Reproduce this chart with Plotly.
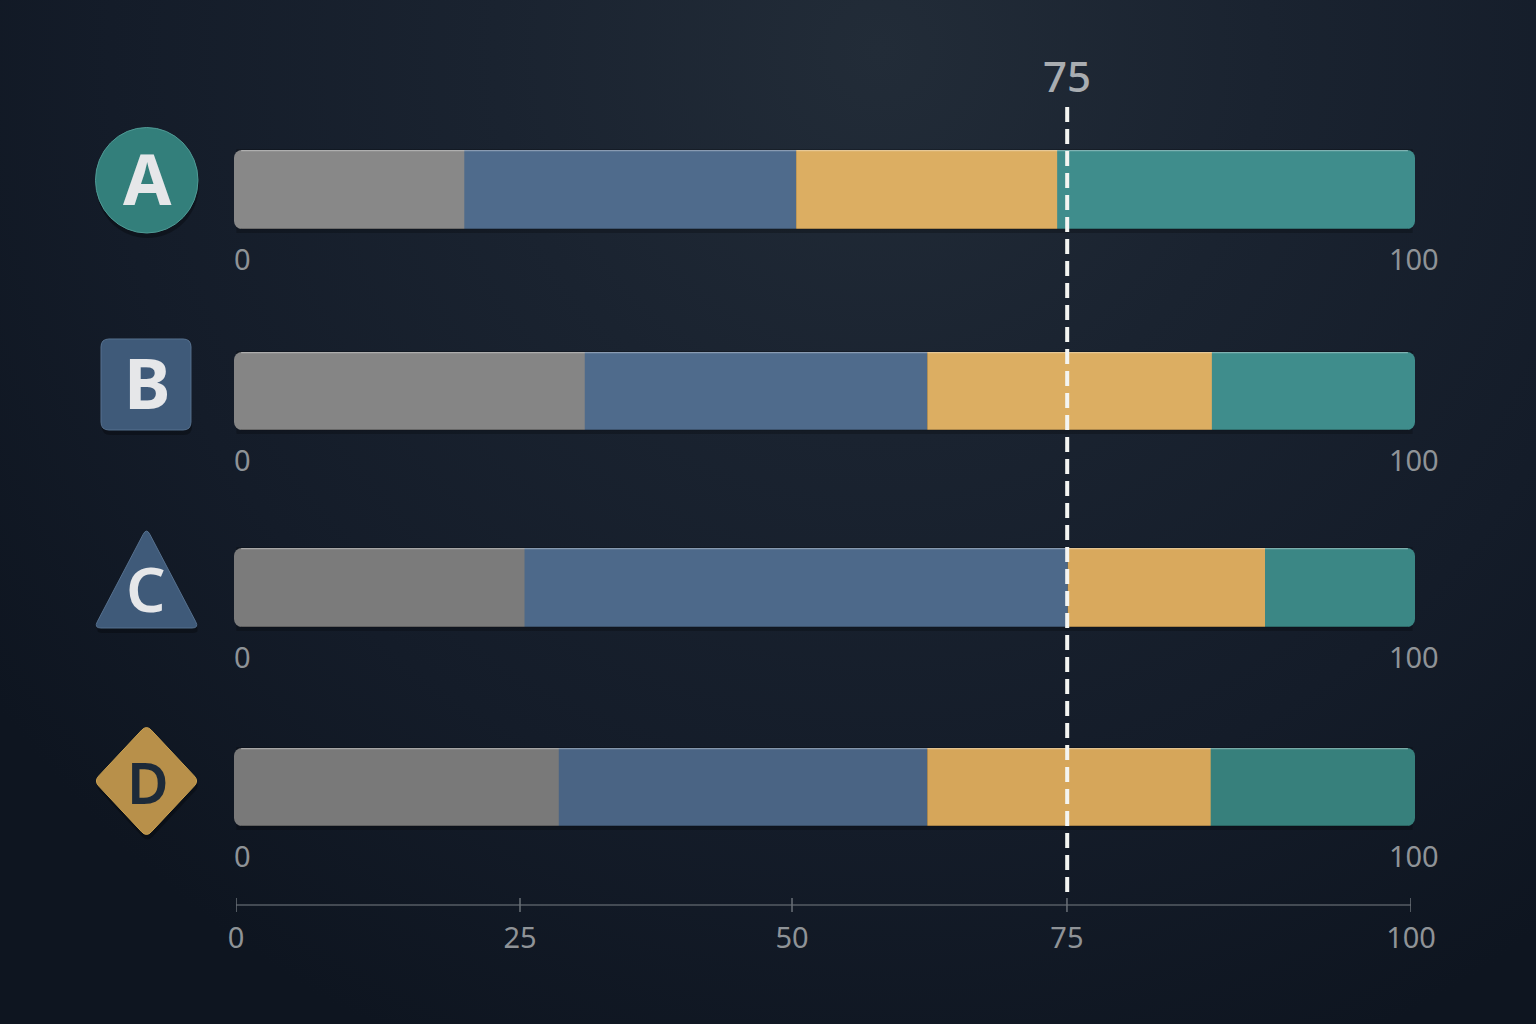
import base64
import math
import plotly.graph_objects as go

W, H = 1536, 1024

# Data (share of each bar)
ROWS = ["A", "B", "C", "D"]
SEG_GRAY = [19.5, 29.7, 24.6, 27.5]
SEG_BLUE = [28.1, 29.0, 46.0, 31.2]
SEG_GOLD = [22.1, 24.1, 16.7, 24.0]
SEG_TEAL = [30.3, 17.2, 12.7, 17.3]

COL_GRAY = ["#888888", "#858585", "#7b7b7b", "#797979"]
COL_BLUE = ["#4f6b8c", "#4f6b8c", "#4d698a", "#4a6484"]
COL_GOLD = ["#dcae62", "#dcae62", "#d9a95d", "#d6a65a"]
COL_TEAL = ["#3f8d8c", "#3f8d8c", "#3b8785", "#37807c"]

ROW_TOP = [150, 352, 548, 748]
ROW_BOTTOM = [229, 430, 627, 826]
BAR_LEFT, BAR_RIGHT = 234, 1415

ROW_TICK_POS = [0.7, 99.9]
ROW_TICK_TEXT = ["0", "100"]

AXIS_TICK_POS = [0, 24.17, 47.32, 70.72, 100]
AXIS_TICK_TEXT = ["0", "25", "50", "75", "100"]
REF_POS = 70.55
REF_LABEL = "75"

FONT = "Noto Sans"
TICK_COLOR = "#8f9397"
UNDERLAP = 2  # end segments run beneath their neighbour so only outer corners stay rounded


def px(x):
    return x / W


def py(y):
    return 1 - y / H


fig = go.Figure()
shapes = []

for i, row in enumerate(ROWS):
    n = "" if i == 0 else str(i + 1)
    xa, ya = "x" + n, "y" + n
    g, b, o, t = SEG_GRAY[i], SEG_BLUE[i], SEG_GOLD[i], SEG_TEAL[i]
    common = dict(y=[row], orientation="h", width=1, xaxis=xa, yaxis=ya,
                  showlegend=False, hoverinfo="skip")
    fig.add_trace(go.Bar(x=[g + UNDERLAP], base=[0],
                         marker=dict(color=COL_GRAY[i], cornerradius=8, line_width=0), **common))
    fig.add_trace(go.Bar(x=[t + UNDERLAP], base=[g + b + o - UNDERLAP],
                         marker=dict(color=COL_TEAL[i], cornerradius=8, line_width=0), **common))
    fig.add_trace(go.Bar(x=[b], base=[g], marker=dict(color=COL_BLUE[i], line_width=0), **common))
    fig.add_trace(go.Bar(x=[o], base=[g + b], marker=dict(color=COL_GOLD[i], line_width=0), **common))
    fig.update_layout(**{
        "xaxis" + n: dict(domain=[px(BAR_LEFT), px(BAR_RIGHT)], range=[0, 100], anchor=ya,
                          tickmode="array", tickvals=ROW_TICK_POS, ticktext=ROW_TICK_TEXT,
                          ticks="outside", ticklen=5, tickcolor="rgba(0,0,0,0)",
                          tickfont=dict(family=FONT, size=29, color=TICK_COLOR),
                          showgrid=False, zeroline=False, showline=False, automargin=False),
        "yaxis" + n: dict(domain=[py(ROW_BOTTOM[i]), py(ROW_TOP[i])], anchor=xa, type="category",
                          range=[-0.5, 0.5], visible=False),
    })
    # soft shadow under the bar, light top edge, dark bottom edge
    shapes.append(dict(type="rect", xref="x" + n, yref="paper", x0=0.2, x1=99.8,
                       y0=py(ROW_BOTTOM[i] + 4), y1=py(ROW_TOP[i] - 1),
                       fillcolor="rgba(0,0,0,0.22)", line_width=0, layer="below"))
    shapes.append(dict(type="line", xref="x" + n, yref=ya + " domain", x0=0.6, x1=99.4, y0=0.992, y1=0.992,
                       line=dict(color="rgba(255,255,255,0.33)", width=1.2), layer="above"))
    shapes.append(dict(type="line", xref="x" + n, yref=ya + " domain", x0=0.6, x1=99.4, y0=0.006, y1=0.006,
                       line=dict(color="rgba(0,0,0,0.22)", width=1.2), layer="above"))

# bottom scale
fig.add_trace(go.Scatter(x=AXIS_TICK_POS, y=[0] * len(AXIS_TICK_POS), xaxis="x5", yaxis="y5",
                         mode="lines+markers", showlegend=False, hoverinfo="skip",
                         line=dict(color="#565c64", width=1.5),
                         marker=dict(symbol="line-ns", size=16, line=dict(color="#6a7077", width=1.5))))
fig.update_layout(
    xaxis5=dict(domain=[px(236), px(1411)], range=[0, 100], anchor="y5",
                tickmode="array", tickvals=AXIS_TICK_POS, ticktext=AXIS_TICK_TEXT,
                ticks="outside", ticklen=0, tickcolor="rgba(0,0,0,0)",
                tickfont=dict(family=FONT, size=29, color=TICK_COLOR),
                showgrid=False, zeroline=False, showline=False, automargin=False),
    yaxis5=dict(domain=[py(912), py(898)], range=[-1, 1], anchor="x5", visible=False),
)

# reference line
shapes.append(dict(type="line", xref="x", yref="paper", x0=REF_POS, x1=REF_POS, y0=py(107), y1=py(893),
                   line=dict(color="#f4f5f2", width=4, dash="15px,7px"), layer="above"))


def rounded(points, r):
    """closed path through pixel points with rounded corners"""
    parts = []
    n = len(points)
    for k in range(n):
        p0, p1, p2 = points[k - 1], points[k], points[(k + 1) % n]
        d1 = math.dist(p0, p1)
        d2 = math.dist(p1, p2)
        a = (p1[0] + (p0[0] - p1[0]) * r / d1, p1[1] + (p0[1] - p1[1]) * r / d1)
        c = (p1[0] + (p2[0] - p1[0]) * r / d2, p1[1] + (p2[1] - p1[1]) * r / d2)
        parts.append(f"{'M' if k == 0 else 'L'} {px(a[0]):.5f} {py(a[1]):.5f} "
                     f"Q {px(p1[0]):.5f} {py(p1[1]):.5f} {px(c[0]):.5f} {py(c[1]):.5f}")
    return " ".join(parts) + " Z"


def badge(points, r, color, edge):
    shadow = [(x + 1, y + 5) for x, y in points]
    shapes.append(dict(type="path", xref="paper", yref="paper", path=rounded(shadow, r),
                       fillcolor="rgba(0,0,0,0.28)", line_width=0, layer="below"))
    shapes.append(dict(type="path", xref="paper", yref="paper", path=rounded(points, r),
                       fillcolor=color, line=dict(color=edge, width=1), layer="below"))


# A circle
shapes.append(dict(type="circle", xref="paper", yref="paper", x0=px(96), x1=px(199), y0=py(238), y1=py(132),
                   fillcolor="rgba(0,0,0,0.28)", line_width=0, layer="below"))
shapes.append(dict(type="circle", xref="paper", yref="paper", x0=px(95.5), x1=px(198), y0=py(233), y1=py(127.5),
                   fillcolor="#337f7b", line=dict(color="#4f9a95", width=1), layer="below"))
badge([(101, 339), (191, 339), (191, 430), (101, 430)], 8, "#3f5a79", "#56718f")
badge([(146.5, 528), (199, 628), (94, 628)], 7, "#3f5a79", "#56718f")
badge([(146.5, 725), (199, 781), (146.5, 837), (94, 781)], 7, "#b8904a", "#c9a050")

annotations = [
    dict(text="A", x=px(147), y=py(178), font=dict(size=70, color="#e6e7e9", family=FONT, weight=700)),
    dict(text="B", x=px(147), y=py(381.5), font=dict(size=70, color="#e6e7e9", family=FONT, weight=700)),
    dict(text="C", x=px(146), y=py(587.5), font=dict(size=62, color="#e6e7e9", family=FONT, weight=600)),
    dict(text="D", x=px(148), y=py(782), font=dict(size=57, color="#1d2a39", family=FONT, weight=600)),
]
annotations = [dict(a, xref="paper", yref="paper", showarrow=False, xanchor="center", yanchor="middle")
               for a in annotations]
annotations.append(dict(text=REF_LABEL, xref="x", yref="paper", x=REF_POS, y=py(75), showarrow=False,
                        xanchor="center", yanchor="middle",
                        font=dict(size=42, color="#a9adb1", family=FONT, weight=500)))

bg_svg = f"""<svg xmlns='http://www.w3.org/2000/svg' width='{W}' height='{H}'>
<defs><radialGradient id='g' gradientUnits='userSpaceOnUse' cx='880' cy='50' r='1100'>
<stop offset='0' stop-color='#222c38'/><stop offset='0.35' stop-color='#1a2330'/>
<stop offset='0.7' stop-color='#141c29'/><stop offset='1' stop-color='#0e1520'/></radialGradient></defs>
<rect width='{W}' height='{H}' fill='url(#g)'/></svg>"""
bg_uri = "data:image/svg+xml;base64," + base64.b64encode(bg_svg.encode()).decode()

fig.update_layout(
    width=W, height=H, margin=dict(l=0, r=0, t=0, b=0),
    barmode="overlay", paper_bgcolor="#141c2a", plot_bgcolor="rgba(0,0,0,0)",
    shapes=shapes, annotations=annotations, hovermode=False,
    images=[dict(source=bg_uri, xref="paper", yref="paper", x=0, y=1, sizex=1, sizey=1,
                 xanchor="left", yanchor="top", sizing="stretch", layer="below")],
)

fig.write_html("out.html", config=dict(displayModeBar=False),
               post_script="document.body.style.margin='0';document.body.style.background='#141c2a';")
